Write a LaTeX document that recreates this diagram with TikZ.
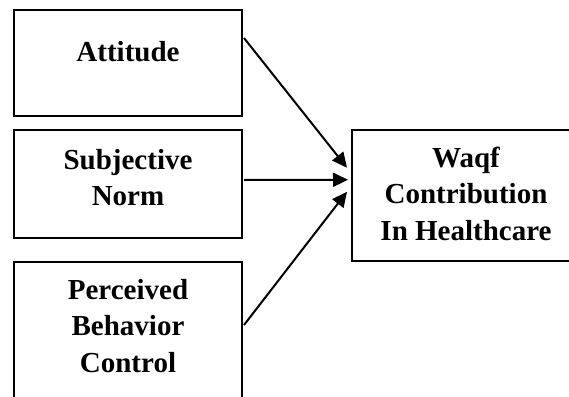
\documentclass[tikz,border=0pt]{standalone}
\usepackage{fontspec}
\setmainfont{Liberation Serif}
\usetikzlibrary{arrows.meta,positioning}

\begin{document}
\begin{tikzpicture}[x=1pt,y=-1pt,
    box/.style={draw, line width=2pt, minimum width=228pt, inner sep=0pt},
    lbl/.style={inner sep=0pt, align=center, font=\fontsize{29}{36.5}\selectfont\bfseries},
    arr/.style={-{Triangle[length=15pt,width=14pt]}, line width=2pt}]
      \useasboundingbox (0,0) rectangle (569,396);
      \clip (0,0) rectangle (569,396);

      \node[box, minimum height=106pt](att) at (128,63){};
      \node[box, minimum height=108pt](sn) at (128,184){};
      \node[box, minimum height=160pt](pbc) at (128,342){};
      \node[box, minimum height=131pt](waqf) at (466,195.75){};

      \node[lbl, below=32pt of att.north](attT){Attitude};
      \node[lbl, below=20pt of sn.north](snT){Subjective\\Norm};
      \node[lbl, below=18pt of pbc.north](pbcT){Perceived\\Behavior\\Control};
      \node[lbl, below=17.5pt of waqf.north](waqfT){Waqf\\Contribution\\In Healthcare};

      \draw[arr] ([xshift=1pt,yshift=25pt]att.east) -- ([xshift=-4pt,yshift=28pt]waqf.west);
      \draw[arr] ([xshift=1pt,yshift=4pt]sn.east) -- ([xshift=-3pt,yshift=16pt]waqf.west);
      \draw[arr] ([xshift=1pt,yshift=17pt]pbc.east) -- ([xshift=-4pt,yshift=4pt]waqf.west);

    \end{tikzpicture}
\end{document}
